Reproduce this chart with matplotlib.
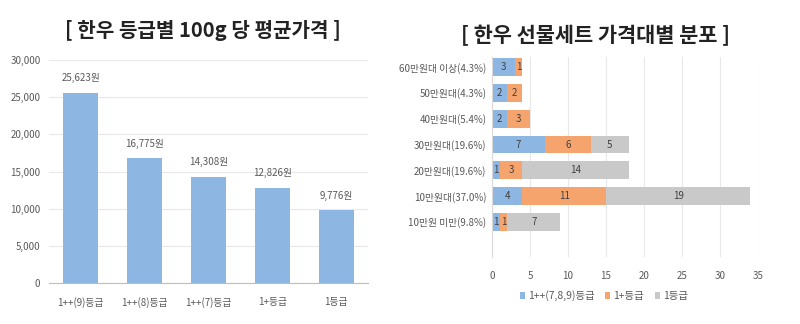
import numpy as np
import matplotlib
matplotlib.use('Agg')
from matplotlib import pyplot as plt
from matplotlib.ticker import FuncFormatter

plt.rcParams['font.family'] = ['Noto Sans CJK KR', 'DejaVu Sans']

# Left chart data: average price per 100g by grade
grades = ['1++(9)등급', '1++(8)등급', '1++(7)등급', '1+등급', '1등급']
prices = [25623, 16775, 14308, 12826, 9776]

# Right chart data: gift set count by price band (bottom to top)
bands = ['10만원 미만(9.8%)', '10만원대(37.0%)', '20만원대(19.6%)', '30만원대(19.6%)',
         '40만원대(5.4%)', '50만원대(4.3%)', '60만원대 이상(4.3%)']
top_grade = [1, 4, 1, 7, 2, 2, 3]
plus_grade = [1, 11, 3, 6, 3, 2, 1]
first_grade = [7, 19, 14, 5, 0, 0, 0]
series_names = ['1++(7,8,9)등급', '1+등급', '1등급']

blue = '#8db6e2'
orange = '#f5a46e'
gray = '#c9c9c9'
text_c = '#595959'


def thousands(x, pos):
    return '{:,.0f}'.format(x)


def main():
    fig = plt.figure(figsize=(8, 3.24), dpi=100)

    # Left: vertical bar chart
    #--------------------------------------------------------------------------
    ax1 = fig.add_axes([0.061, 0.1265, 0.399, 0.6883])
    x = np.arange(len(grades))
    ax1.bar(x, prices, width=0.55, color=blue, zorder=2)
    for xi, p in zip(x, prices):
        ax1.text(xi, p + 1300, '{:,}원'.format(p), ha='center', va='bottom',
                 fontsize=7, color=text_c)
    ax1.set_ylim(0, 30000)
    ax1.set_xlim(-0.5, len(grades) - 0.5)
    ax1.set_yticks(np.arange(0, 30001, 5000))
    ax1.yaxis.set_major_formatter(FuncFormatter(thousands))
    ax1.set_xticks(x)
    ax1.set_xticklabels(grades)
    ax1.grid(axis='y', color='#e8e8e8', linewidth=0.8, zorder=0)
    for s in ['top', 'right', 'left']:
        ax1.spines[s].set_visible(False)
    ax1.spines['bottom'].set_color('#bfbfbf')
    ax1.tick_params(axis='both', length=0, labelsize=7, colors=text_c)
    ax1.tick_params(axis='x', pad=10)
    ax1.tick_params(axis='y', pad=6)
    fig.text(0.254, 0.905, '[ 한우 등급별 100g 당 평균가격 ]', ha='center',
             va='center', fontsize=14.5, fontweight='bold', color='#222222')
    #--------------------------------------------------------------------------

    # Right: stacked horizontal bar chart
    #--------------------------------------------------------------------------
    ax2 = fig.add_axes([0.615, 0.2068, 0.3325, 0.617])
    y = np.arange(len(bands))
    left = np.zeros(len(bands))
    for vals, col, name in zip([top_grade, plus_grade, first_grade],
                               [blue, orange, gray], series_names):
        vals = np.array(vals)
        ax2.barh(y, vals, left=left, height=0.69, color=col, label=name, zorder=2)
        for yi, l, v in zip(y, left, vals):
            if v > 0:
                ax2.text(l + v / 2, yi, str(v), ha='center', va='center',
                         fontsize=7, color='#404040')
        left = left + vals
    ax2.set_xlim(0, 35)
    ax2.set_ylim(-1.36, 6.39)
    ax2.set_xticks(np.arange(0, 36, 5))
    ax2.set_yticks(y)
    ax2.set_yticklabels(bands)
    ax2.grid(axis='x', color='#e8e8e8', linewidth=0.8, zorder=0)
    for s in ['top', 'right', 'bottom']:
        ax2.spines[s].set_visible(False)
    ax2.spines['left'].set_color('#d9d9d9')
    ax2.tick_params(axis='both', length=0, labelsize=7, colors=text_c)
    ax2.tick_params(axis='x', pad=10)
    ax2.tick_params(axis='y', pad=4)
    ax2.legend(loc='upper center', bbox_to_anchor=(0.42, -0.12), ncol=3,
               frameon=False, fontsize=7.5, handlelength=0.5, handleheight=0.7,
               handletextpad=0.3, columnspacing=1.0, labelcolor=text_c)
    fig.text(0.744, 0.89, '[ 한우 선물세트 가격대별 분포 ]', ha='center',
             va='center', fontsize=15, fontweight='bold', color='#222222')
    #--------------------------------------------------------------------------

    fig.savefig('out.png', dpi=100, facecolor='white')


if __name__ == "__main__":
    main()
